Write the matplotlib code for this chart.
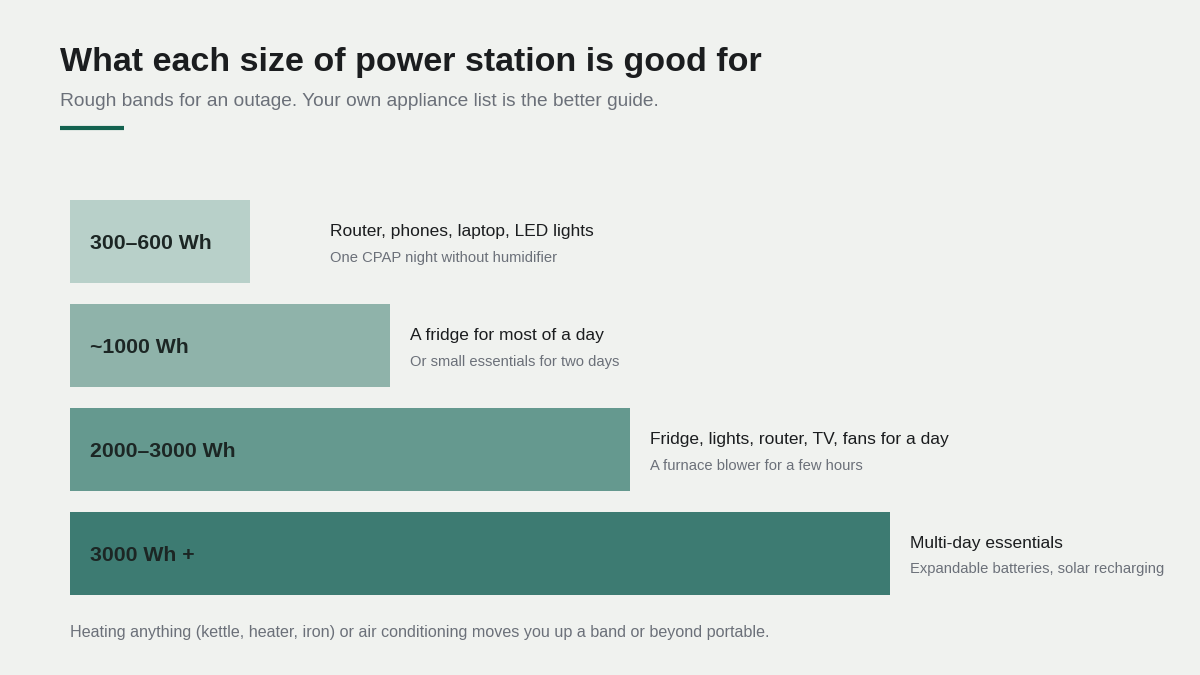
import matplotlib
matplotlib.use("Agg")
import matplotlib.pyplot as plt

# chart data
bands = ["300–600 Wh", "~1000 Wh", "2000–3000 Wh", "3000 Wh +"]
band_len = [22, 39, 68.3, 100]  # relative bar length, longest = 100
uses = ["Router, phones, laptop, LED lights",
        "A fridge for most of a day",
        "Fridge, lights, router, TV, fans for a day",
        "Multi-day essentials"]
notes = ["One CPAP night without humidifier",
         "Or small essentials for two days",
         "A furnace blower for a few hours",
         "Expandable batteries, solar recharging"]
colors = ["#b8d0c9", "#8fb3aa", "#65998f", "#3d7b72"]

BG = "#f0f2ef"
DARK = "#1b1d1f"
GREY = "#6b7079"

plt.rcParams['font.family'] = ['Liberation Sans', 'DejaVu Sans']

W, H = 1200, 675
fig = plt.figure(figsize=(12, 6.75), dpi=100, facecolor=BG)

# title block
fig.text(60 / W, 1 - 62 / H, "What each size of power station is good for",
         fontsize=24.5, fontweight='bold', color=DARK, va='center', ha='left')
fig.text(60 / W, 1 - 101 / H, "Rough bands for an outage. Your own appliance list is the better guide.",
         fontsize=13.8, color=GREY, va='center', ha='left')
fig.add_artist(plt.Line2D([60 / W, 124 / W], [1 - 127.5 / H, 1 - 127.5 / H],
                          color="#13624f", linewidth=3, solid_capstyle='butt'))

# bar area: 70..890 px wide, 200..595 px tall
ax = fig.add_axes([70 / W, 1 - 595 / H, 820 / W, 395 / H])
ax.set_facecolor(BG)
bar_h = 83 / 104
ypos = list(range(len(bands)))
ax.barh(ypos, band_len, height=bar_h, color=colors, left=0)
ax.set_xlim(0, max(band_len))
ax.set_ylim(len(bands) - 1 + bar_h / 2, -bar_h / 2)
ax.axis('off')

px_per_unit = 820 / max(band_len)
for i, (lab, val, use, note) in enumerate(zip(bands, band_len, uses, notes)):
    ax.annotate(lab, xy=(0, i), xytext=(20, -2), textcoords='offset pixels',
                fontsize=15.3, fontweight='bold', color="#1c2624", va='center', ha='left')
    # right-hand description, at least 260 px from bar start
    off = max(val * px_per_unit + 20, 260) - val * px_per_unit
    ax.annotate(use, xy=(val, i), xytext=(off, 10), textcoords='offset pixels',
                fontsize=12.5, color=DARK, va='center', ha='left', annotation_clip=False)
    ax.annotate(note, xy=(val, i), xytext=(off, -16), textcoords='offset pixels',
                fontsize=10.6, color=GREY, va='center', ha='left', annotation_clip=False)

fig.text(70 / W, 1 - 633 / H,
         "Heating anything (kettle, heater, iron) or air conditioning moves you up a band or beyond portable.",
         fontsize=11.6, color=GREY, va='center', ha='left')

fig.savefig("out.png", dpi=100, facecolor=BG)
